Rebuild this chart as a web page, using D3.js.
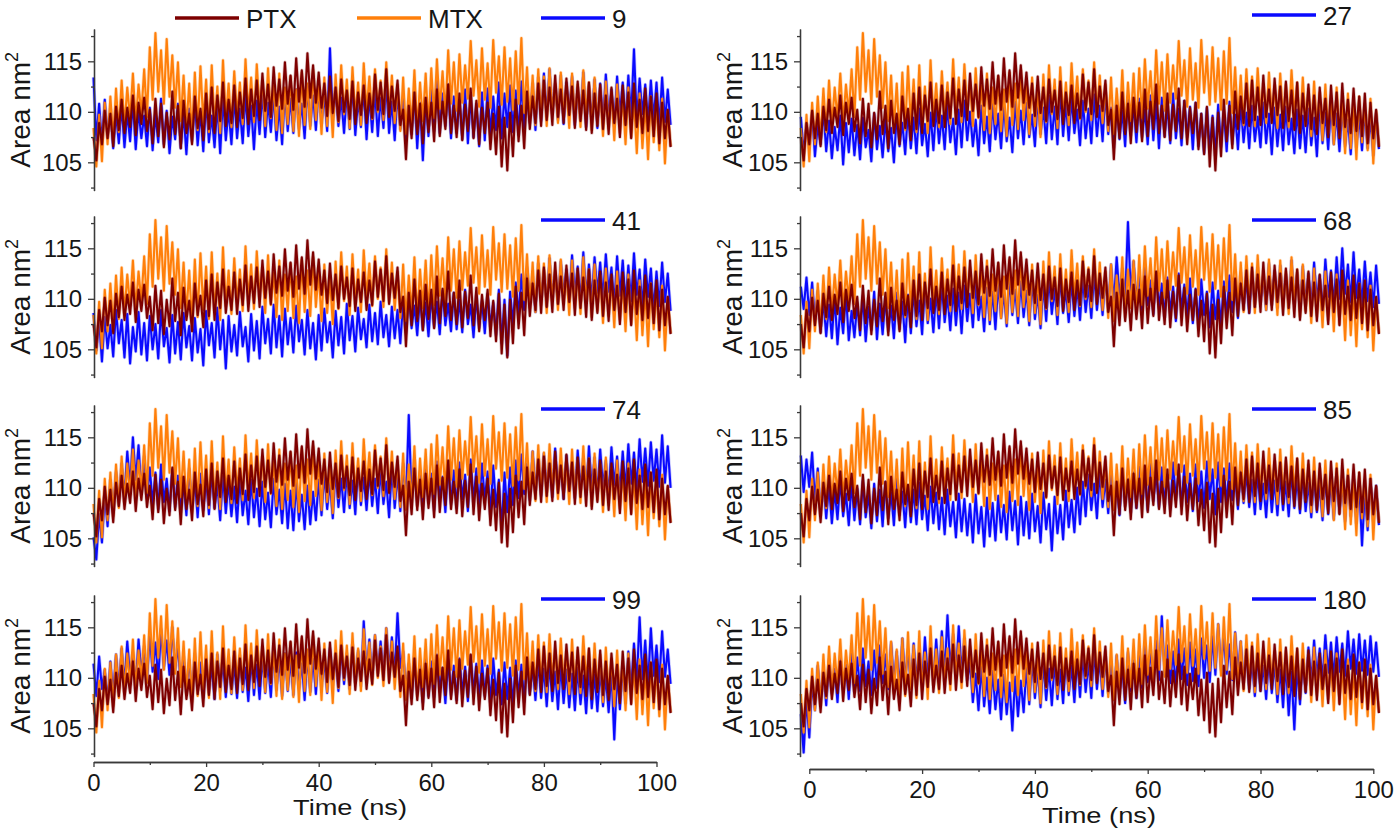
<!DOCTYPE html>
<html>
<head>
<meta charset="utf-8">
<script src="https://d3js.org/d3.v7.min.js"></script>
<style type="text/css">
  body { margin: 0; background: #fff; }
  svg { font-family: "Liberation Sans", Arial, sans-serif; }
  .axis path, .axis line { fill: none; stroke: #3a3a3a; stroke-width: 1.3; }
  .axis text { font-size: 24px; fill: #161616; }
  .series { fill: none; stroke-width: 2.1; stroke-linejoin: round; }
  .halo { fill: none; stroke-width: 3.6; stroke-opacity: 0.22; stroke-linejoin: round; }
  .legend text { font-size: 26px; fill: #161616; }
  .title { font-size: 28px; fill: #161616; }
  .xtitle { font-size: 22px; fill: #161616; }
</style>
</head>
<body>
<script type="text/javascript">
var ptx = [
  107.5,105.2,108.9,106.8,110.1,107.4,109.8,106.6,110.5,108.2,
  111.2,107.9,110.4,108.5,111.6,107.7,110.9,108.8,111.4,108.1,
  110.2,106.9,111.3,107.6,110.8,106.5,109.9,107.3,112.0,107.8,
  110.6,106.4,111.1,107.9,109.8,106.8,111.5,108.4,110.3,107.2,
  111.8,108.3,112.4,107.9,111.6,109.1,112.9,108.6,111.2,108.9,
  112.6,108.5,111.9,109.4,113.3,108.8,112.2,109.6,113.1,109.2,
  113.8,110.1,112.7,109.5,114.4,110.6,113.2,110.3,114.9,110.8,
  113.6,110.2,115.3,111.0,114.1,110.5,115.8,111.4,114.6,110.9,
  113.9,110.4,112.8,109.6,113.5,109.9,112.4,109.1,113.2,110.0,
  112.1,109.3,113.0,108.8,111.9,109.7,112.6,108.9,111.8,109.4,
  113.7,110.2,112.9,109.8,114.2,109.5,112.5,110.1,113.1,108.7,
  110.2,105.3,110.6,107.4,111.9,107.8,110.8,106.9,111.4,108.0,
  110.9,107.1,112.2,107.6,111.0,108.3,112.7,107.9,110.6,107.5,
  111.8,107.2,110.7,108.1,112.3,107.4,111.1,106.8,110.4,107.9,
  110.9,106.3,109.8,105.8,110.5,104.6,109.4,104.2,109.9,105.6,
  111.2,107.1,110.6,106.4,112.0,108.3,111.5,108.9,112.8,108.6,
  113.1,109.2,112.4,108.7,113.6,109.5,112.2,108.9,113.3,109.7,
  112.5,108.4,113.0,109.1,112.1,108.2,112.9,107.9,111.8,108.6,
  112.7,108.3,111.6,107.8,112.4,108.9,111.3,107.5,112.6,108.7,
  111.9,107.4,112.8,108.5,111.2,107.9,112.3,108.1,111.5,107.6,
  111.8,106.9,110.9,107.4,110.2,106.5
];
var mtx = [
  108.4,104.6,109.7,105.1,110.9,106.8,111.5,107.2,112.3,108.0,
  113.1,108.6,112.4,109.3,113.8,108.9,112.7,109.8,114.2,109.5,
  116.4,111.2,117.8,112.0,116.1,110.8,117.2,111.5,115.6,110.4,
  114.9,109.1,113.6,108.4,112.8,107.6,113.9,108.2,114.5,108.9,
  113.2,108.0,114.6,108.7,112.5,107.9,115.1,109.3,112.8,108.5,
  114.0,109.6,112.9,108.8,115.2,109.9,113.4,109.0,114.7,110.2,
  113.1,108.6,114.3,109.4,112.6,108.2,113.8,107.9,112.4,108.8,
  113.5,108.1,112.2,107.6,113.9,108.7,112.8,108.3,114.1,109.2,
  112.6,107.8,113.4,108.6,112.1,107.5,113.7,109.0,114.6,109.8,
  113.2,108.4,114.4,109.5,112.9,108.7,114.8,110.1,113.5,109.3,
  114.2,110.0,113.1,109.2,114.9,109.7,113.6,108.9,112.7,108.1,
  113.4,107.8,112.3,108.6,114.1,108.2,112.9,109.1,113.8,108.5,
  114.3,109.4,115.2,110.3,114.0,109.6,116.1,110.8,114.9,110.1,
  115.7,110.9,114.6,111.3,117.0,111.6,115.1,110.5,116.3,111.2,
  114.8,110.4,117.1,111.9,115.5,110.7,116.4,111.0,115.3,110.2,
  116.0,110.8,117.3,109.9,114.4,109.1,113.6,108.7,114.2,109.4,
  113.5,108.6,114.3,109.8,112.8,108.9,113.9,109.5,112.6,108.4,
  113.8,109.1,112.7,108.5,114.1,109.6,112.9,108.2,113.4,108.8,
  112.3,107.6,113.0,108.3,111.9,107.2,112.7,107.9,111.6,106.8,
  112.4,107.5,111.2,105.9,111.8,106.4,110.9,105.3,111.5,107.0,
  110.8,106.2,111.3,104.9,110.1,106.6
];
var blue9 = [
  113.4,107.2,110.8,106.9,111.2,107.5,110.3,106.4,109.8,106.9,
  110.6,106.5,109.9,107.1,111.0,106.3,110.2,107.4,109.6,106.6,
  110.4,106.2,109.7,107.0,111.3,106.8,110.1,105.9,109.5,107.3,
  110.8,106.4,109.9,105.8,110.3,107.1,111.0,106.7,110.0,106.1,
  111.2,107.0,109.6,106.5,110.7,105.9,111.4,107.2,110.2,106.8,
  111.5,107.4,110.3,106.9,111.8,107.6,110.6,106.3,111.1,107.8,
  112.0,107.5,110.9,108.0,111.7,107.2,110.5,106.8,111.9,108.1,
  111.3,107.9,112.2,108.3,110.8,107.4,112.5,108.6,111.6,108.2,
  112.4,108.8,111.7,108.1,116.3,109.2,112.1,108.6,111.4,107.9,
  111.9,108.3,112.6,107.7,111.2,108.5,112.3,107.3,111.6,108.0,
  112.1,107.6,111.4,108.4,112.8,107.9,111.0,107.2,111.9,108.3,
  111.5,107.1,110.6,107.8,112.0,106.4,110.9,105.2,111.3,107.6,
  112.4,108.1,113.1,107.9,111.8,108.6,112.7,107.4,111.5,107.9,
  111.1,107.3,112.2,106.9,111.6,107.5,110.8,106.6,111.9,107.2,
  112.3,107.8,111.5,108.2,112.9,107.4,111.8,108.5,112.6,108.0,
  112.1,107.7,113.0,108.4,111.6,108.9,112.8,108.2,113.4,109.1,
  113.8,109.5,114.2,109.9,112.7,109.2,113.6,108.8,112.9,109.6,
  113.5,108.7,112.4,109.3,113.9,108.5,112.6,109.0,113.2,108.4,
  112.8,108.9,113.7,109.4,112.2,108.6,113.5,109.7,112.9,108.8,
  113.6,109.5,116.2,109.1,113.3,109.8,112.7,108.9,113.1,109.3,
  112.9,108.6,113.4,109.0,112.2,108.7
];
var blue27 = [
  109.5,105.9,108.8,106.4,109.9,105.6,108.6,106.8,110.2,106.1,
  109.1,105.4,108.5,106.2,109.6,104.8,108.9,106.0,109.3,105.7,
  108.7,105.3,109.4,106.5,108.2,105.1,109.8,106.3,108.6,105.5,
  109.2,106.1,108.4,105.0,109.7,106.6,108.9,105.8,110.1,106.4,
  109.4,105.9,110.3,106.7,108.8,105.6,109.9,106.2,110.5,106.9,
  109.6,106.3,110.8,107.0,109.3,105.8,110.2,106.5,111.1,107.2,
  110.0,106.6,109.2,105.7,110.6,106.9,109.5,106.1,110.9,107.3,
  109.8,106.4,110.7,107.1,109.4,106.0,111.0,107.4,110.1,106.8,
  110.9,107.5,109.7,106.6,111.3,107.8,110.4,106.9,111.6,107.3,
  110.5,106.8,112.2,107.6,110.8,107.2,111.4,107.9,110.2,106.7,
  111.1,107.4,110.3,106.9,111.7,107.6,110.6,107.1,111.9,107.8,
  110.4,106.5,111.2,107.3,110.1,106.6,111.5,107.7,110.7,107.0,
  111.3,107.5,110.2,106.8,111.6,107.2,110.9,106.4,111.4,107.6,
  110.6,106.9,111.8,107.4,110.3,106.7,111.1,107.5,110.5,106.3,
  110.9,106.6,109.8,105.9,110.4,106.2,109.6,105.7,110.7,106.5,
  110.1,106.1,111.0,106.8,109.7,106.3,110.8,107.0,109.9,106.4,
  110.6,107.1,109.5,106.5,110.9,106.9,109.8,105.8,110.4,106.6,
  109.7,106.2,110.5,106.8,109.3,105.9,110.2,106.4,109.6,106.0,
  110.3,106.7,109.4,105.6,110.8,106.9,109.9,106.3,110.6,106.8,
  109.8,106.1,110.4,106.6,109.2,105.8,110.7,106.5,109.5,106.2,
  110.1,106.4,109.3,105.7,109.8,106.3
];
var blue41 = [
  108.6,104.9,107.8,103.8,108.2,105.1,107.4,104.3,108.9,105.6,
  107.9,104.2,108.5,103.6,107.2,104.8,108.7,104.5,107.6,103.9,
  108.3,105.0,107.5,104.1,108.9,105.3,107.1,103.7,108.4,104.6,
  107.7,104.0,108.6,105.2,107.3,103.9,108.1,104.7,107.0,103.4,
  108.8,105.4,107.6,104.2,109.1,105.0,107.9,103.1,108.3,104.8,
  107.4,104.4,108.7,105.3,107.2,103.8,108.5,104.9,107.8,104.1,
  109.2,105.6,108.0,104.6,109.4,105.2,108.3,104.3,109.0,105.5,
  108.1,104.7,109.3,105.8,107.9,104.5,108.9,105.1,107.6,104.0,
  108.4,104.9,109.0,105.7,107.7,104.2,108.8,105.4,108.2,104.6,
  109.5,105.9,108.3,104.8,109.1,106.0,108.0,105.2,109.4,105.8,
  108.6,105.5,109.7,106.2,108.4,105.3,109.2,106.1,108.9,105.6,
  109.8,106.6,110.5,107.1,109.3,106.4,110.2,106.9,109.6,106.3,
  110.4,107.2,109.7,106.5,110.8,107.4,109.5,106.8,110.6,107.0,
  109.9,106.7,110.9,107.5,109.4,106.2,110.3,107.1,109.8,106.6,
  110.5,107.3,109.6,106.4,110.9,105.6,109.9,104.4,110.7,107.5,
  111.6,108.4,112.4,108.9,113.1,109.6,112.2,108.7,113.5,109.9,
  112.8,109.3,114.0,110.1,112.6,109.5,113.7,110.4,112.9,109.8,
  114.3,110.5,113.2,109.7,114.6,110.2,113.4,109.9,114.1,110.6,
  113.6,110.0,114.4,110.7,113.1,109.4,114.2,110.3,113.8,109.6,
  113.3,109.8,114.5,110.4,112.9,109.1,113.9,110.2,113.0,108.9,
  112.7,109.3,113.6,109.7,112.5,108.8
];
var blue68 = [
  111.2,109.0,112.1,108.4,111.6,107.9,110.8,106.7,109.9,106.3,
  109.4,106.1,110.2,105.5,109.1,106.6,110.5,105.9,108.8,106.2,
  109.6,106.4,110.3,105.8,109.2,106.9,110.7,106.0,109.5,106.5,
  110.1,106.8,109.3,106.1,110.6,107.0,109.7,105.7,110.4,106.6,
  110.9,107.3,109.8,106.5,111.2,107.6,110.0,106.7,110.8,107.1,
  111.4,107.7,110.3,106.9,111.0,107.4,110.6,106.6,111.3,107.8,
  110.5,107.2,111.6,107.9,110.2,106.8,111.1,107.5,110.7,107.0,
  111.5,108.1,110.6,107.3,112.0,108.4,110.9,107.6,111.7,108.2,
  110.8,107.4,111.9,108.0,110.4,107.1,111.4,107.8,112.1,108.5,
  111.0,107.5,112.3,108.6,110.9,107.7,111.8,108.3,111.2,107.9,
  112.0,108.7,111.3,108.1,112.5,108.9,111.6,108.4,112.2,108.8,
  113.4,109.6,114.1,110.2,113.0,109.8,117.6,110.5,113.7,109.9,
  112.4,108.9,113.2,109.4,111.8,108.5,112.6,109.1,111.5,108.2,
  112.1,108.6,111.2,107.8,112.5,108.9,111.4,108.3,112.0,107.6,
  111.0,107.5,111.9,108.4,110.7,107.2,111.6,108.0,110.8,107.4,
  111.7,108.2,112.3,108.7,111.4,108.1,112.6,109.0,111.9,108.6,
  112.7,109.2,113.1,109.7,112.2,108.9,113.5,109.4,112.8,109.1,
  113.3,109.8,112.4,109.0,113.8,109.5,112.6,108.8,113.2,109.6,
  112.5,109.1,113.6,109.9,112.3,108.7,113.9,110.2,112.8,109.3,
  114.1,110.0,115.0,110.5,113.4,109.7,114.6,110.1,112.9,109.4,
  113.7,109.8,112.6,109.2,113.3,109.5
];
var blue74 = [
  105.1,102.9,107.4,104.6,109.3,106.2,110.8,107.5,111.6,108.3,
  112.4,109.1,113.6,110.2,115.0,110.8,114.2,109.6,113.1,108.9,
  112.0,108.4,111.5,107.9,112.3,108.6,110.9,107.7,111.8,108.1,
  111.2,107.6,110.5,107.3,111.9,108.2,110.7,107.1,111.4,107.8,
  110.9,107.4,111.6,108.0,110.3,106.8,111.2,107.5,110.6,107.2,
  110.1,106.6,111.0,107.3,109.7,106.4,110.8,107.1,109.9,106.2,
  110.6,106.9,109.5,106.1,110.9,107.4,109.8,106.5,110.4,106.0,
  109.7,105.8,110.5,106.7,109.3,105.9,110.2,106.4,109.6,106.8,
  110.8,107.3,111.4,107.9,110.5,107.0,111.7,108.1,110.9,107.6,
  111.5,108.0,110.7,107.4,112.1,108.3,111.0,107.8,111.6,108.2,
  110.9,107.5,111.8,108.4,110.6,107.1,112.0,108.0,111.3,107.7,
  112.4,108.6,117.2,109.0,112.8,108.3,111.6,107.9,112.2,108.5,
  111.4,107.8,112.6,108.7,111.1,107.6,112.3,108.4,111.7,108.0,
  112.5,108.9,111.3,107.7,112.8,108.6,111.9,108.2,112.4,108.8,
  111.6,107.4,112.2,108.1,110.8,105.9,111.5,107.6,112.0,108.3,
  112.7,109.0,113.3,109.4,112.4,108.8,113.6,109.7,112.9,109.2,
  113.4,109.6,112.8,109.1,113.9,109.8,112.6,108.9,113.2,109.5,
  112.6,109.0,113.7,109.9,112.9,109.3,114.1,110.0,113.0,109.4,
  113.8,110.1,112.7,109.2,114.0,110.3,113.1,109.6,113.6,109.8,
  114.3,110.4,113.5,109.9,114.8,110.6,113.9,110.2,114.5,110.7,
  113.8,110.1,115.2,110.5,114.1,110.0
];
var blue85 = [
  113.2,109.6,112.8,110.1,113.5,108.7,111.9,107.8,110.6,107.0,
  110.2,106.5,109.7,106.9,110.8,107.2,109.4,106.3,110.5,106.8,
  109.9,106.4,110.7,107.1,109.3,106.0,110.4,106.7,109.8,106.2,
  110.6,107.0,109.5,106.3,110.9,107.3,109.6,106.1,110.2,106.6,
  109.8,106.4,110.5,106.9,109.2,105.8,110.1,106.5,109.5,105.9,
  109.0,105.4,109.8,106.2,108.6,105.1,109.4,105.7,108.9,105.3,
  108.4,104.6,109.3,105.5,108.1,104.2,109.0,105.2,108.5,104.8,
  109.2,105.6,108.3,104.9,109.6,105.8,108.7,104.4,109.1,105.3,
  108.6,105.0,109.4,105.7,108.2,104.6,109.5,105.9,108.4,103.8,
  109.1,105.5,108.3,104.9,109.7,106.1,108.8,105.6,110.0,106.4,
  110.6,107.2,111.3,107.8,110.4,107.0,111.6,108.1,110.8,107.5,
  111.4,107.9,110.7,107.3,111.8,108.2,110.9,107.6,111.5,108.0,
  112.1,108.5,111.2,107.8,112.4,108.7,111.5,108.1,112.0,108.4,
  111.3,107.9,112.5,108.8,111.7,108.2,112.2,108.6,111.4,107.7,
  112.3,108.7,111.6,108.0,112.6,108.9,111.8,107.4,112.5,108.6,
  111.9,108.3,112.4,108.8,111.2,107.9,112.1,108.5,111.5,108.1,
  110.8,107.4,111.5,107.9,110.4,107.1,111.2,107.6,110.7,107.3,
  111.3,107.8,110.6,107.2,111.6,108.0,110.9,107.5,111.4,107.7,
  110.5,107.1,111.2,107.6,110.2,106.8,111.0,107.4,110.6,106.9,
  111.1,107.5,110.4,106.7,111.3,107.2,110.8,106.5,110.3,104.3,
  109.6,105.8,110.9,106.7,110.2,106.3
];
var blue99 = [
  111.4,108.2,112.1,108.9,110.8,107.6,111.6,108.4,112.3,109.0,
  112.9,109.4,113.6,110.1,112.5,109.2,113.8,110.5,113.1,109.7,
  114.2,110.6,113.5,109.9,114.8,110.9,113.7,110.3,115.0,110.7,
  113.2,109.3,112.1,108.6,111.8,108.2,112.4,108.8,111.5,108.0,
  111.9,108.5,111.2,107.9,112.3,108.7,111.6,108.1,112.0,108.4,
  111.4,108.0,112.2,108.6,111.0,107.7,111.9,108.3,111.3,107.9,
  112.1,108.5,111.5,108.1,112.6,108.8,111.8,108.2,112.4,108.7,
  111.7,108.3,112.5,108.9,111.4,107.8,112.2,108.6,111.9,108.4,
  112.6,109.1,111.8,108.5,112.9,109.3,112.2,108.7,113.0,109.4,
  112.4,108.9,113.3,109.6,112.7,109.2,115.6,110.4,113.8,110.0,
  114.2,110.5,113.6,110.1,114.9,110.8,114.0,110.3,116.4,111.0,
  112.6,108.7,111.4,108.0,112.1,108.4,111.3,107.6,111.9,108.2,
  111.6,108.1,112.3,108.6,111.0,107.5,111.8,108.3,111.2,107.8,
  111.9,108.4,111.1,107.7,112.2,108.5,111.4,107.9,111.7,108.2,
  111.2,107.6,111.9,108.3,110.8,107.4,111.5,107.9,111.0,107.3,
  111.7,108.1,111.3,107.6,112.0,108.4,111.1,107.8,111.6,108.0,
  110.9,107.2,111.4,107.7,110.6,106.9,111.2,107.5,110.8,107.1,
  110.4,106.8,111.0,107.4,110.2,106.5,110.9,107.0,110.3,106.7,
  110.8,107.2,110.1,106.6,110.7,103.9,110.4,106.9,111.2,107.5,
  112.6,108.8,113.4,109.5,116.0,109.9,113.7,109.3,114.9,110.2,
  113.2,109.6,114.6,110.1,112.8,109.4
];
var blue180 = [
  106.4,102.6,107.9,104.1,109.5,106.8,111.2,107.9,110.6,107.3,
  111.8,108.4,110.9,107.6,112.1,108.8,111.3,107.9,112.4,108.6,
  112.0,108.7,112.9,109.2,111.6,108.3,112.7,109.0,113.2,109.5,
  112.3,108.9,113.5,109.6,112.6,109.1,113.9,109.8,112.8,109.3,
  113.4,109.9,112.7,109.4,114.0,110.2,113.1,109.7,113.8,110.0,
  114.6,110.5,116.2,110.9,114.3,110.3,115.1,110.6,113.9,109.8,
  111.5,107.6,110.4,106.8,111.1,107.2,110.0,106.5,110.7,106.9,
  109.8,105.9,110.3,106.4,109.5,104.8,110.1,106.2,109.7,106.6,
  111.0,107.4,111.8,108.0,110.7,107.1,111.5,107.8,110.9,107.3,
  111.6,107.9,110.8,107.5,112.0,108.3,111.2,107.6,111.9,108.1,
  112.3,108.6,111.5,108.0,112.7,108.9,111.8,108.2,112.1,108.5,
  111.4,107.8,112.2,108.4,111.0,107.5,112.5,108.7,111.7,108.0,
  112.6,109.0,113.4,109.6,112.8,109.2,113.7,109.8,116.1,110.3,
  113.2,109.5,112.6,109.1,113.8,109.9,112.9,109.3,113.5,109.7,
  112.8,109.2,113.9,110.0,113.2,109.6,114.1,110.3,115.3,110.8,
  114.0,110.4,113.3,109.8,114.5,110.6,113.6,109.5,112.7,108.9,
  111.6,108.2,112.3,108.7,111.2,107.9,112.0,108.5,111.4,107.6,
  110.8,107.1,111.5,106.3,110.6,104.9,111.2,107.4,112.1,108.5,
  113.0,109.6,113.7,110.1,112.9,109.8,114.2,110.5,113.5,110.0,
  114.0,110.6,113.4,110.2,114.6,110.9,113.8,110.4,114.3,110.7,
  113.7,110.3,114.1,110.6,113.5,110.1
];

var panelNames = ["9", "27", "41", "68", "74", "85", "99", "180"];
var panelBlue = [blue9, blue27, blue41, blue68, blue74, blue85, blue99, blue180];
var legendNames = ["PTX", "MTX"];
var xTicks = [0, 20, 40, 60, 80, 100];
var xMinor = [10, 30, 50, 70, 90];
var yTicks = [105, 110, 115];
var yMinor = [102.5, 107.5, 112.5, 117.5];
var dt = 0.5;

var colors = { ptx: "#7d0000", mtx: "#ff7f0a", blue: "#0a0aff" };

var svg = d3.select("body").append("svg")
  .attr("width", 1400)
  .attr("height", 835);

// two columns of four stacked panels
var cols = [
  { r0: 93.5, r1: 656.5, axisX: 94, t0: 0, legX: 541, xAxisY: 762, titleX: 350, titleY: 815, labelX: 30, legY0: 18 },
  { r0: 809.3, r1: 1373.3, axisX: 800, t0: -1.5, legX: 1252, xAxisY: 769, titleX: 1099, titleY: 823, labelX: 742, legY0: 15 }
];
var rowTop = [29, 216, 405, 595];
var panelH = 161.6;

panelNames.forEach(function (name, i) {
  var c = cols[i % 2];
  var r = Math.floor(i / 2);
  var x = d3.scaleLinear().domain([0, 100]).range([c.r0, c.r1]);
  var y = d3.scaleLinear().domain([102.2, 118.2]).range([rowTop[r] + panelH, rowTop[r]]);

  var line = d3.line()
    .x(function (d, k) { return x(c.t0 + k * dt); })
    .y(function (d) { return y(d); });

  var g = svg.append("g");

  // blue under orange under maroon; a faint wide stroke gives the soft fringe
  [[panelBlue[i], colors.blue], [mtx, colors.mtx], [ptx, colors.ptx]].forEach(function (s) {
    var d = line(s[0]);
    g.append("path").attr("class", "halo").attr("stroke", s[1]).attr("d", d);
    g.append("path").attr("class", "series").attr("stroke", s[1]).attr("d", d);
  });

  // y axis
  g.append("g")
    .attr("class", "axis")
    .attr("transform", "translate(" + c.axisX + ",0)")
    .call(d3.axisLeft(y).tickValues(yTicks).tickSize(6).tickSizeOuter(0).tickPadding(6));
  g.append("g")
    .attr("class", "axis")
    .attr("transform", "translate(" + c.axisX + ",0)")
    .call(d3.axisLeft(y).tickValues(yMinor).tickSize(3).tickSizeOuter(0).tickFormat(""));

  var label = g.append("text")
    .attr("class", "title")
    .attr("text-anchor", "middle")
    .attr("transform", "translate(" + c.labelX + "," + y(110.2) + ") rotate(-90)");
  label.append("tspan").text("Area nm");
  label.append("tspan").attr("dy", -12).style("font-size", "18px").text("2");

  // legend
  var leg = g.append("g").attr("class", "legend");
  var ly = r === 0 ? c.legY0 : rowTop[r] + 4;
  var items = [{ name: name, color: colors.blue, x: c.legX }];
  if (i === 0) {
    items = [
      { name: legendNames[0], color: colors.ptx, x: 175 },
      { name: legendNames[1], color: colors.mtx, x: 357 }
    ].concat(items);
  }
  items.forEach(function (it) {
    leg.append("line")
      .attr("x1", it.x).attr("x2", it.x + 64)
      .attr("y1", ly).attr("y2", ly)
      .attr("stroke", it.color).attr("stroke-width", 3.5);
    leg.append("text")
      .attr("x", it.x + 71).attr("y", ly + 9.5)
      .text(it.name);
  });

  // x axis only under bottom row
  if (r === 3) {
    g.append("g")
      .attr("class", "axis")
      .attr("transform", "translate(0," + c.xAxisY + ")")
      .call(d3.axisBottom(x).tickValues(xTicks).tickSize(5).tickSizeOuter(0).tickPadding(7));
    g.append("g")
      .attr("class", "axis")
      .attr("transform", "translate(0," + c.xAxisY + ")")
      .call(d3.axisBottom(x).tickValues(xMinor).tickSize(3).tickSizeOuter(0).tickFormat(""));
    g.append("text")
      .attr("class", "xtitle")
      .attr("text-anchor", "middle")
      .attr("x", c.titleX).attr("y", c.titleY)
      .attr("textLength", 114)
      .attr("lengthAdjust", "spacingAndGlyphs")
      .text("Time (ns)");
  }
});
</script>
</body>
</html>
